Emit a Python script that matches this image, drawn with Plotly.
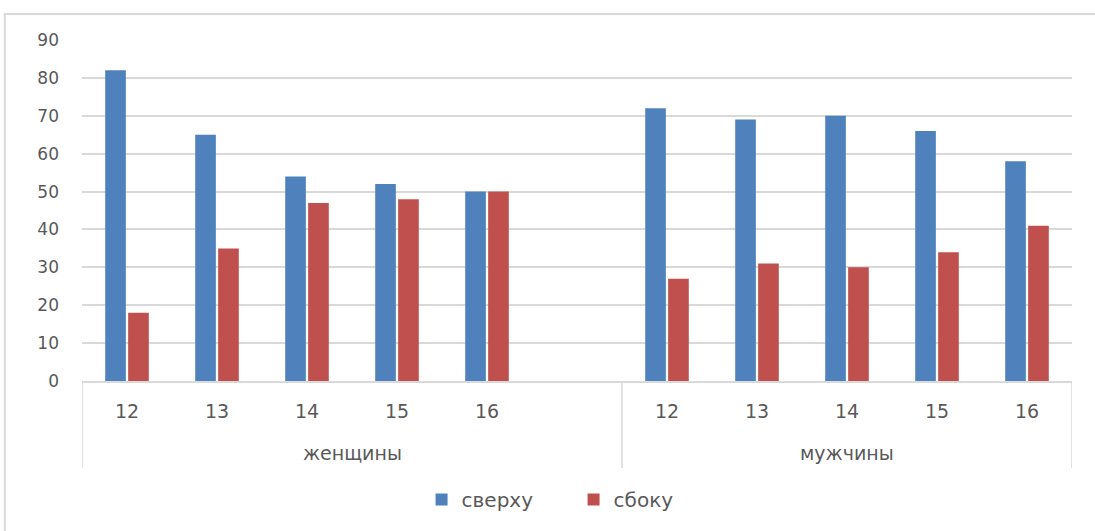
import plotly.graph_objects as go

# Survey results by group and age
groups = ["женщины", "мужчины"]
ages_women = ["12", "13", "14", "15", "16"]
ages_men = ["12", "13", "14", "15", "16"]
top_women = [82, 65, 54, 52, 50]
side_women = [18, 35, 47, 48, 50]
top_men = [72, 69, 70, 66, 58]
side_men = [27, 31, 30, 34, 41]
y_ticks = [0, 10, 20, 30, 40, 50, 60, 70, 80, 90]

BLUE = "#4F81BD"
RED = "#C0504D"
GRID = "#D9D9D9"
TXT = "#595959"
FONT = "DejaVu Sans"

# women occupy slots 0..5 (last slot empty), men slots 6..10
x_women = list(range(len(ages_women)))
x_men = [6 + i for i in range(len(ages_men))]
x_all = x_women + x_men
labels_all = ages_women + ages_men

fig = go.Figure()
fig.add_trace(go.Bar(x=x_all, y=top_women + top_men, name="сверху",
                     marker=dict(color=BLUE, line=dict(width=0))))
fig.add_trace(go.Bar(x=x_all, y=side_women + side_men, name="сбоку",
                     marker=dict(color=RED, line=dict(width=0))))

# group dividers below the axis
for xv in [-0.5, 5.5, 10.5]:
    fig.add_shape(type="line", xref="x", yref="paper", x0=xv, x1=xv,
                  y0=0, y1=-0.255, line=dict(color=GRID, width=1.5))

# group labels
fig.add_annotation(x=2.5, y=-0.21, xref="x", yref="paper", text=groups[0],
                   showarrow=False, yanchor="middle",
                   font=dict(family=FONT, size=19, color=TXT))
fig.add_annotation(x=8, y=-0.21, xref="x", yref="paper", text=groups[1],
                   showarrow=False, yanchor="middle",
                   font=dict(family=FONT, size=19, color=TXT))

# outer chart border
fig.add_shape(type="rect", xref="paper", yref="paper",
              x0=-0.078, x1=1.05, y0=-0.6, y1=1.076,
              line=dict(color=GRID, width=2), layer="below")

fig.update_layout(
    width=1095, height=531,
    margin=dict(l=82, r=23, t=40, b=148),
    paper_bgcolor="white", plot_bgcolor="white",
    barmode="group", bargap=0.49, bargroupgap=0.1,
    font=dict(family=FONT, size=18, color=TXT),
    showlegend=True,
    legend=dict(orientation="h", x=0.343, xanchor="left", y=-0.29,
                yanchor="top", font=dict(family=FONT, size=20, color=TXT),
                itemwidth=30, entrywidth=107, entrywidthmode="pixels",
                traceorder="normal"),
    xaxis=dict(range=[-0.5, 10.5], tickmode="array", tickvals=x_all,
               ticktext=labels_all, showgrid=False, zeroline=False,
               showline=True, linecolor=GRID, linewidth=1.5, ticks="",
               ticklabelstandoff=12,
               tickfont=dict(family=FONT, size=19, color=TXT)),
    yaxis=dict(range=[0, 90], tickmode="array", tickvals=y_ticks,
               showgrid=True, gridcolor=GRID, gridwidth=1.5, zeroline=False,
               showline=False, ticks="", ticklabelstandoff=22,
               tickfont=dict(family=FONT, size=17, color=TXT)),
)

fig.write_html("out.html")
